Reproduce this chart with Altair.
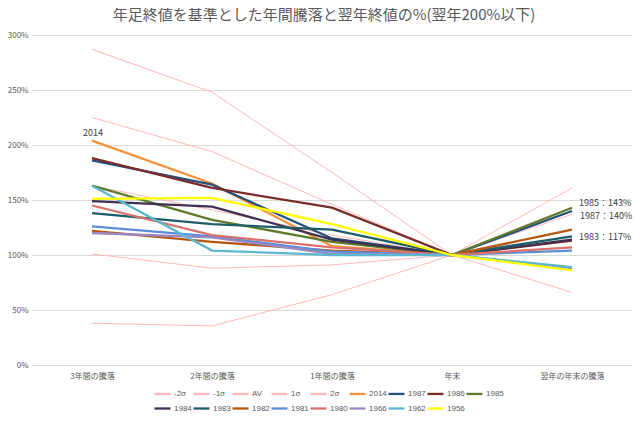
import altair as alt
import pandas as pd

categories = ["3年間の騰落", "2年間の騰落", "1年間の騰落", "年末", "翌年の年末の騰落"]

series = ["-2σ", "-1σ", "AV", "1σ", "2σ", "2014", "1987", "1986", "1985",
          "1984", "1983", "1982", "1981", "1980", "1966", "1962", "1956"]
sigma_series = ["-2σ", "-1σ", "AV", "1σ", "2σ"]

m2s = [38, 35.5, 64, 100, 66]
m1s = [101, 88, 91, 100, 89]
av = [163, 141, 118, 100, 113]
p1s = [225, 194, 146, 100, 137]
p2s = [287, 248, 175, 100, 161]
y2014 = [204, 165, 108, 100, None]
y1987 = [186, 164, 115, 100, 140]
y1986 = [188, 161, 143, 100, 113]
y1985 = [163, 132, 112, 100, 143]
y1984 = [149, 144, 114, 100, 114]
y1983 = [138, 128, 123, 100, 117]
y1982 = [122, 112, 104, 100, 123]
y1981 = [126, 117, 103, 100, 104]
y1980 = [145, 118, 107, 100, 107]
y1966 = [120, 116, 101, 100, 88]
y1962 = [163, 104, 100, 100, 89]
y1956 = [151, 152, 128, 100, 86]

values = [m2s, m1s, av, p1s, p2s, y2014, y1987, y1986, y1985,
          y1984, y1983, y1982, y1981, y1980, y1966, y1962, y1956]

colors = ["#FFB8B8", "#FFB8B8", "#FFB8B8", "#FFB8B8", "#FFB8B8",
          "#F7923A", "#24507E", "#772C2A", "#5F7A2C",
          "#403152", "#1F5C69", "#B4570F", "#5B8ED6", "#D9726E",
          "#9B88C2", "#5CB8D0", "#FFFF00"]

rows = []
for s, vals in zip(series, values):
    for c, v in zip(categories, vals):
        if v is not None:
            rows.append({"series": s, "cat": c, "value": v})
df = pd.DataFrame(rows)
df_sigma = df[df["series"].isin(sigma_series)]
df_years = df[~df["series"].isin(sigma_series)]

x_scale = alt.Scale(type="point", padding=0.5)
y_scale = alt.Scale(domain=[0, 300])

x_enc = alt.X("cat:N", sort=categories, scale=x_scale,
              axis=alt.Axis(title=None, labelAngle=0, ticks=False, grid=False,
                            domainColor="#D9D9D9", labelColor="#595959",
                            labelFontSize=8, labelPadding=7,
                            labelFont="Noto Sans CJK JP"))
y_enc = alt.Y("value:Q", scale=y_scale,
              axis=alt.Axis(title=None, values=[0, 50, 100, 150, 200, 250, 300],
                            labelExpr="datum.value + '%'", ticks=False, domain=False,
                            gridColor="#D9D9D9", labelColor="#595959",
                            labelFontSize=8, labelPadding=4,
                            labelFont="Noto Sans CJK JP"))

color_enc = alt.Color("series:N", sort=series,
                      scale=alt.Scale(domain=series, range=colors),
                      legend=alt.Legend(title=None, orient="none", legendX=121, legendY=349,
                                        columns=9, direction="horizontal",
                                        gridAlign="all",
                                        symbolType="stroke", symbolSize=256,
                                        symbolStrokeWidth=2.3, labelFontSize=8,
                                        labelColor="#595959", labelOffset=2,
                                        columnPadding=-6.5, rowPadding=0,
                                        labelFont="Liberation Sans"))

sigma_lines = alt.Chart(df_sigma).mark_line(strokeWidth=1).encode(
    x=x_enc, y=y_enc, color=color_enc)
year_lines = alt.Chart(df_years).mark_line(strokeWidth=2.3).encode(
    x=x_enc, y=y_enc, color=color_enc)

label_specs = [
    ("2014", 0, 1, -8, "center"),
    ("1985", 4, 7, -5, "left"),
    ("1987", 4, 8, 5, "left"),
    ("1983", 4, 7, 1, "left"),
]
texts = []
for name, idx, dx, dy, align in label_specs:
    v = values[series.index(name)][idx]
    txt = name if name == "2014" else f"{name}：{v}%"
    d = pd.DataFrame([{"cat": categories[idx], "value": v, "label": txt}])
    texts.append(
        alt.Chart(d).mark_text(dx=dx, dy=dy, align=align, fontSize=9,
                               color="#404040", font="Noto Sans CJK JP").encode(
            x=alt.X("cat:N", sort=categories, scale=x_scale),
            y=alt.Y("value:Q", scale=y_scale),
            text="label:N",
        )
    )

chart = alt.layer(sigma_lines, year_lines, *texts).properties(
    width=600, height=330,
    title=alt.Title("年足終値を基準とした年間騰落と翌年終値の%(翌年200%以下)",
                    fontSize=15, fontWeight="normal", color="#595959",
                    font="Noto Sans CJK JP", anchor="middle", offset=8, dx=-8),
    autosize=alt.AutoSizeParams(type="none"),
    padding={"left": 24, "top": 27, "right": 4, "bottom": 50},
).configure_view(stroke=None)

chart.save("out.html", embed_options={"renderer": "svg", "actions": False})
